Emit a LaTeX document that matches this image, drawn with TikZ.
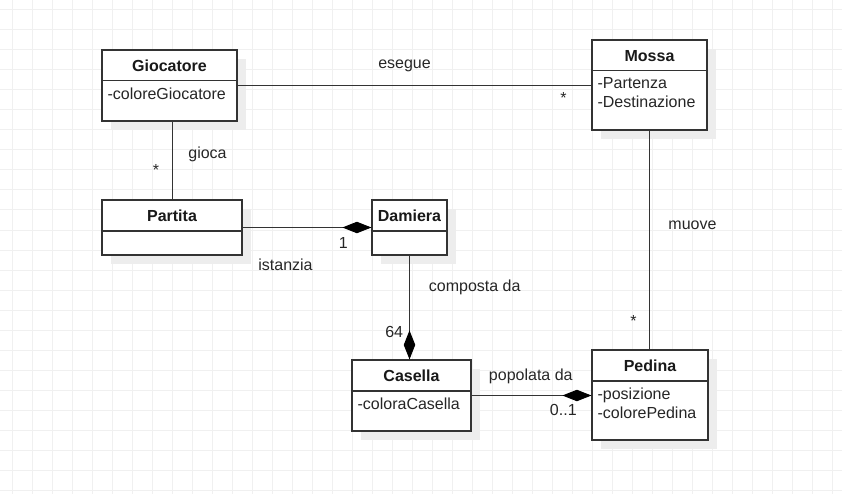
\documentclass[tikz,border=0pt]{standalone}
\usepackage{fontspec}
\setmainfont{Liberation Sans}
\usetikzlibrary{arrows.meta,shadows}
\newcommand\umlfont{\fontsize{16}{19}\selectfont}
\tikzset{
  gridline/.style={black!6,line width=1pt},
  classbox/.style={draw=black!80,line width=1.2pt,fill=white,inner sep=0pt,
    drop shadow={shadow xshift=9pt,shadow yshift=-9pt,fill=black!7,opacity=1}},
  classname/.style={anchor=base,inner sep=0pt,font=\umlfont\bfseries,text=black!90},
  attrs/.style={anchor=north west,inner sep=0pt,align=left,font=\umlfont,text=black!85},
  lbl/.style={anchor=base,inner sep=0pt,font=\umlfont,text=black!85},
  assoc/.style={draw=black!80,line width=1pt},
  comp/.style={assoc,-{Diamond[length=29pt,width=11.5pt,color=black]}},
}

\begin{document}
\begin{tikzpicture}[x=1pt,y=-1pt]
            \useasboundingbox (0,0) rectangle (842,494);
            % Grid
            \foreach \x in {12,32,...,832} \draw[gridline] (\x,0) -- (\x,494);
            \foreach \y in {10,30,...,490} \draw[gridline] (0,\y) -- (842,\y);

            % Classes
            \node[classbox,minimum width=135pt,minimum height=71pt] (gioc) at (169.5,85.5) {};
            \node[classbox,minimum width=140pt,minimum height=55pt] (partita) at (172,227.5) {};
            \node[classbox,minimum width=75pt,minimum height=55pt] (damiera) at (409.5,227.5) {};
            \node[classbox,minimum width=115pt,minimum height=90pt] (mossa) at (649.5,85) {};
            \node[classbox,minimum width=119pt,minimum height=71pt] (casella) at (411.5,395.5) {};
            \node[classbox,minimum width=116pt,minimum height=90pt] (pedina) at (650,395) {};
            \foreach \c in {gioc,partita,damiera,mossa,casella,pedina}
                \draw[draw=black!80,line width=1.2pt] ([yshift=-31.5pt]\c.north west) -- ([yshift=-31.5pt]\c.north east);

            \node[classname] at ([yshift=-22pt]gioc.north) {Giocatore};
            \node[classname] at ([yshift=-22pt]partita.north) {Partita};
            \node[classname] at ([yshift=-22pt]damiera.north) {Damiera};
            \node[classname] at ([yshift=-22pt]mossa.north) {Mossa};
            \node[classname] at ([yshift=-22pt]casella.north) {Casella};
            \node[classname] at ([yshift=-22pt]pedina.north) {Pedina};

            \node[attrs] at ([xshift=6pt,yshift=-38pt]gioc.north west) {-coloreGiocatore};
            \node[attrs] at ([xshift=6pt,yshift=-38pt]mossa.north west) {-Partenza\\-Destinazione};
            \node[attrs] at ([xshift=6pt,yshift=-38pt]casella.north west) {-coloraCasella};
            \node[attrs] at ([xshift=6pt,yshift=-38pt]pedina.north west) {-posizione\\-colorePedina};

            % Associations
            \draw[assoc] (gioc.east) -- (gioc.east -| mossa.west);
            \draw[assoc] (partita.north) -- (partita.north |- gioc.south);
            \draw[comp] (partita.east) -- (damiera.west);
            \draw[comp] (damiera.south) -- (damiera.south |- casella.north);
            \draw[assoc] (mossa.south) -- (mossa.south |- pedina.north);
            \draw[comp] (casella.east) -- (casella.east -| pedina.west);

            % Labels
            \node[lbl] at (404.5,69) {esegue};
            \node[lbl] at (563.4,104) {*};
            \node[lbl] at (207.5,159) {gioca};
            \node[lbl] at (156,175.8) {*};
            \node[lbl] at (343.3,248) {1};
            \node[lbl] at (285.5,270) {istanzia};
            \node[lbl] at (474.7,291) {composta da};
            \node[lbl] at (394.2,337.5) {64};
            \node[lbl] at (692.5,229.5) {muove};
            \node[lbl] at (633.5,326.5) {*};
            \node[lbl] at (530.8,380.5) {popolata da};
            \node[lbl] at (563.3,415.8) {0..1};
\end{tikzpicture}
\end{document}
